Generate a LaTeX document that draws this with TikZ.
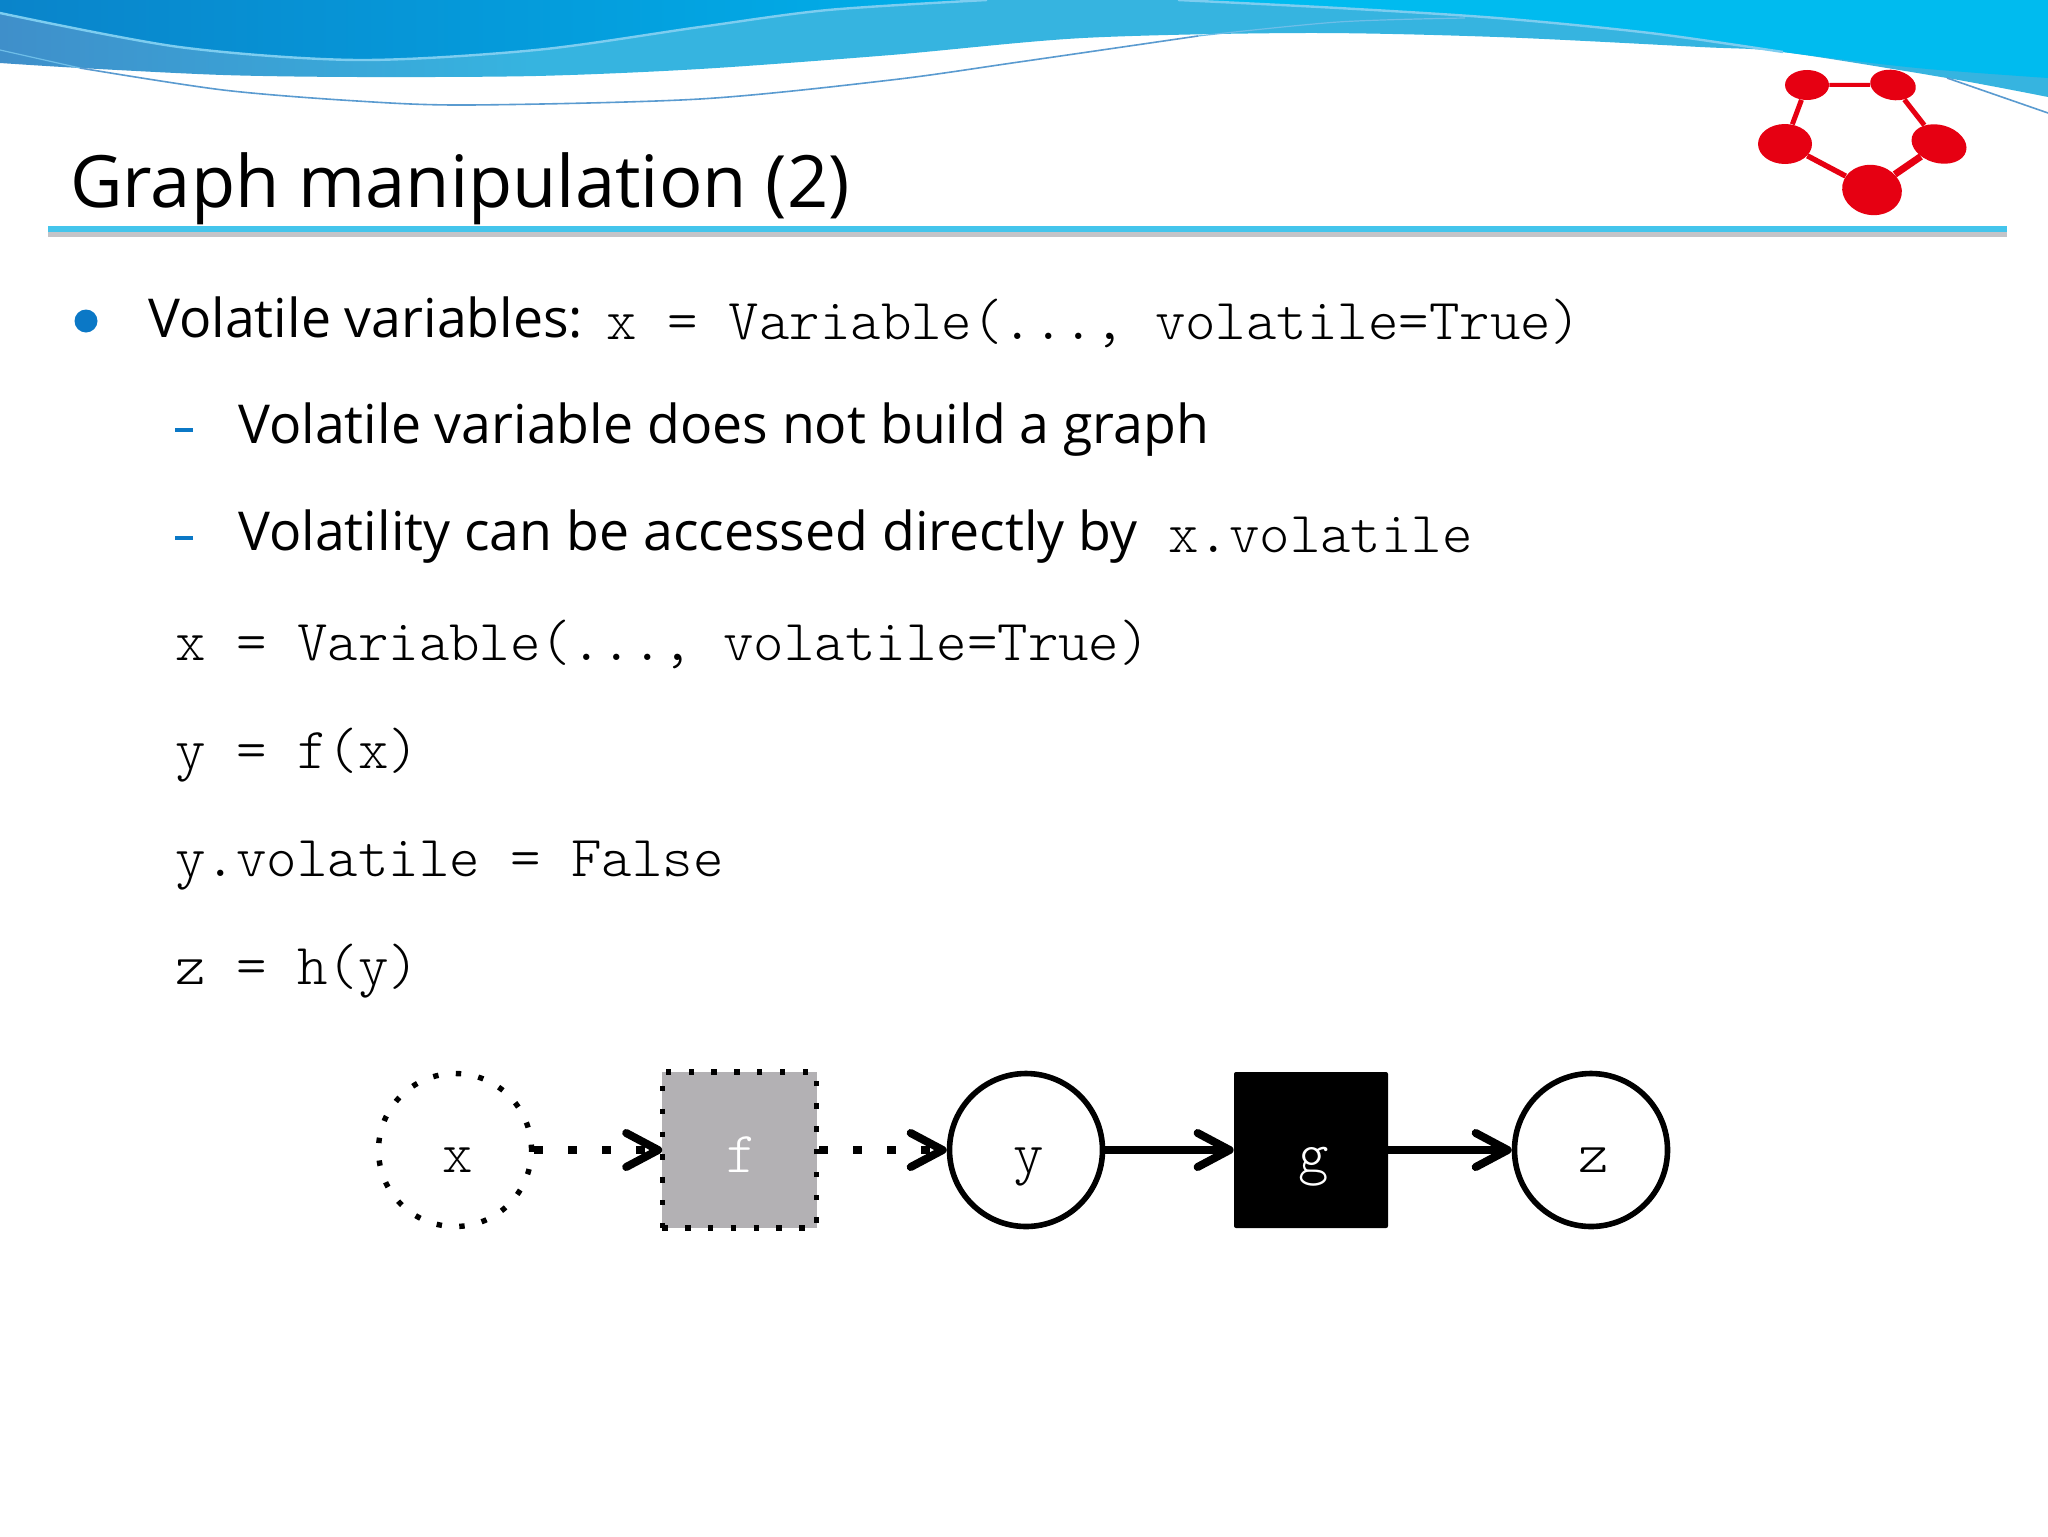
\documentclass[tikz,border=0pt]{standalone}
\usepackage{fontspec}
\setmainfont{Open Sans}
\setmonofont{Latin Modern Mono Light}
\usetikzlibrary{arrows.meta,shapes.geometric}
\definecolor{logored}{HTML}{E60012}
\definecolor{bulletblue}{HTML}{0B78C6}
\definecolor{rulecyan}{HTML}{44C5EC}
\definecolor{opgray}{HTML}{B3B1B4}
\definecolor{bandleft}{HTML}{3F8FCA}
\definecolor{bandmain}{HTML}{36B4E0}
\definecolor{waveleft}{HTML}{0A84CA}
\definecolor{wavemid}{HTML}{00B0EA}
\definecolor{waveright}{HTML}{00BBEF}
\definecolor{glint}{HTML}{7DCDF0}
\definecolor{thinlight}{HTML}{6EBEE8}
\definecolor{thindark}{HTML}{5A9BD0}
\definecolor{ruleshadow}{HTML}{C4C4C8}
\pgfdeclarehorizontalshading{bandshade}{100bp}{color(0bp)=(bandleft); color(25bp)=(bandleft); color(38bp)=(bandmain); color(100bp)=(bandmain)}
\newcommand{\codesize}{\fontsize{29}{34}\selectfont\ttfamily}
\newcommand{\inlinecode}[2]{\hspace*{#1}\raisebox{-1.3pt}{\codesize #2}}
\tikzset{
  >={Straight Barb[length=16pt,width=17pt,round]},
  titletext/.style={anchor=base west,inner sep=0pt,font=\fontsize{36.1}{42}\selectfont},
  bodytext/.style={anchor=base west,inner sep=0pt,font=\fontsize{26.8}{32}\selectfont},
  codetext/.style={anchor=base west,inner sep=0pt,font=\codesize},
  innercode/.style={font=\codesize,text height=22pt,text depth=0pt,inner sep=0pt,execute at begin node=\hspace*{2.5pt}},
  varnode/.style={circle,draw,line width=2.8pt,minimum size=76.5pt,innercode},
  dotborder/.style={line width=2.7pt,dash pattern=on 2.7pt off 8.7pt},
  volvar/.style={varnode,dotborder},
  volop/.style={rectangle,draw,dotborder,fill=opgray,text=white,minimum width=77.2pt,minimum height=78pt,innercode},
  opnode/.style={rectangle,fill=black,text=white,rounded corners=1pt,minimum width=77pt,minimum height=78pt,innercode,execute at begin node={}},
  soliddep/.style={->,line width=4pt},
  dotdep/.style={->,line width=4pt,line cap=butt,dash pattern=on 4.5pt off 12.5pt},
  logonode/.style={ellipse,fill=logored,inner sep=0pt},
  logoedge/.style={draw=logored},
  subdash/.style={rectangle,fill=bulletblue,inner sep=0pt,minimum width=9pt,minimum height=1.7pt},
}
\begin{document}
\begin{tikzpicture}[x=0.5pt,y=-0.5pt]
  \useasboundingbox (0,0) rectangle (2048,1536);
  \fill[white] (0,0) rectangle (2048,1536);

  % Ondas de la cabecera
  \shade[shading=bandshade]
    (0,0) -- (0,63) -- plot[smooth] coordinates {(0,63) (80,68) (223,75) (357,77) (536,76) (700,69) (891,55) (1083,38) (1306,33) (1497,37) (1700,47) (1783,52) (1947,78) (2048,97)} -- (2048,0) -- cycle;
  \shade[left color=waveleft,right color=wavemid]
    (0,0) -- (0,13) -- plot[smooth] coordinates {(0,13) (179,47) (357,60) (536,50) (700,27) (828,10) (987,0)} -- cycle;
  \fill[waveright]
    (1178,0) -- plot[smooth] coordinates {(1178,0) (1338,8) (1497,18) (1650,33) (1783,52) (1917,68) (2048,78)} -- (2048,0) -- cycle;

  % Lineas finas
  \draw[line width=1.2pt,glint] plot[smooth] coordinates {(0,13) (179,47) (357,60) (536,50) (700,27) (828,10) (987,0)};
  \draw[line width=1.2pt,glint] plot[smooth] coordinates {(1178,0) (1338,8) (1497,18) (1650,33) (1783,52)};
  \draw[line width=0.6pt,thinlight] plot[smooth] coordinates {(0,50) (80,68)};
  \draw[line width=0.6pt,thinlight] plot[smooth] coordinates {(1198,36) (1338,22) (1465,18)};
  \draw[line width=0.8pt,thindark] plot[smooth] coordinates {(80,68) (223,90) (357,101) (469,105) (700,99) (891,80) (1019,62) (1198,36)};
  \draw[line width=0.8pt,thindark] plot[smooth] coordinates {(1947,78) (2048,113)};

  % Logo
  \node[logonode,minimum width=22pt,minimum height=15pt] (ringa) at (1807,85) {};
  \node[logonode,minimum width=23pt,minimum height=15pt,rotate=-10] (ringb) at (1893,85) {};
  \node[logonode,minimum width=28pt,minimum height=19pt,rotate=-15] (ringc) at (1939,144) {};
  \node[logonode,minimum width=30pt,minimum height=25pt,rotate=-10] (ringd) at (1872,190) {};
  \node[logonode,minimum width=27pt,minimum height=20pt] (ringe) at (1785,144) {};
  \draw[logoedge,line width=2pt] (ringa) -- (ringb);
  \draw[logoedge,line width=2.5pt] (ringb) -- (ringc);
  \draw[logoedge,line width=3.5pt] (ringc) -- (ringd);
  \draw[logoedge,line width=2.7pt] (ringd) -- (ringe);
  \draw[logoedge,line width=2.5pt] (ringe) -- (ringa);

  % Titulo y regla
  \node[titletext] (title) at (70,207) {Graph manipulation (2)};
  \fill[ruleshadow] (48,232) rectangle (2007,237);
  \fill[rulecyan] (48,226) rectangle (2007,232);

  % Vinetas
  \node[circle,fill=bulletblue,inner sep=0pt,minimum size=11.5pt] (dot) at (86,321) {};
  \node[subdash] (dasha) at (184,430) {};
  \node[subdash] (dashb) at (184,538) {};

  % Texto
  \node[bodytext] (lineone) at (148,337) {Volatile variables: \inlinecode{2.6pt}{x = Variable(..., volatile=True)}};
  \node[bodytext] (linetwo) at (238,443) {Volatile variable does not build a graph};
  \node[bodytext] (linethree) at (238,550) {Volatility can be accessed directly by \inlinecode{8.5pt}{x.volatile}};
  \node[codetext] (codea) at (175,660) {x = Variable(..., volatile=True)};
  \node[codetext] (codeb) at (175,768) {y = f(x)};
  \node[codetext] (codec) at (175,876) {y.volatile = False};
  \node[codetext] (coded) at (175,984) {z = h(y)};

  % Grafo
  \node[volvar] (x) at (455,1150) {x};
  \node[volop] (f) at (739.5,1150) {f};
  \node[varnode] (y) at (1026,1150) {y};
  \node[opnode] (g) at (1311,1150) {g};
  \node[varnode] (z) at (1591,1150) {z};
  \draw[dotdep,shorten >=-1.3pt] (x) -- (f);
  \draw[dotdep] (f) -- (y);
  \draw[soliddep] (y) -- (g);
  \draw[soliddep] (g) -- (z);
\end{tikzpicture}
\end{document}
